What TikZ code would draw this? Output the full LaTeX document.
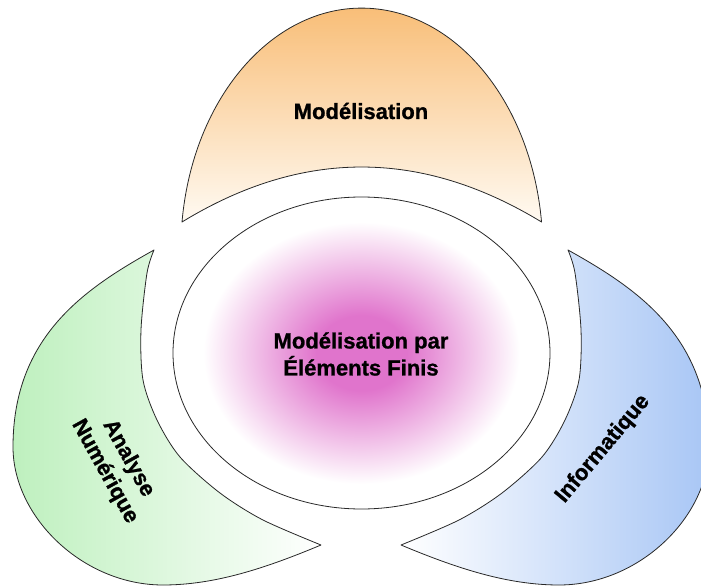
\documentclass[tikz,border=0pt]{standalone}
\usepackage{fontspec}
\setmainfont{Liberation Sans}
\newfontfamily\lblfont{Liberation Sans Bold}[FakeBold=1]
\usetikzlibrary{shapes.geometric}
\definecolor{orangec}{RGB}{248,186,112}
\definecolor{greenc}{RGB}{190,240,190}
\definecolor{bluec}{RGB}{168,198,245}
\definecolor{pinkc}{RGB}{224,116,204}
\definecolor{edgec}{RGB}{40,40,40}
\pgfdeclareradialshading{pinkglow}{\pgfpoint{0bp}{0bp}}{color(0bp)=(pinkc); color(6bp)=(pinkc); color(21bp)=(white); color(50bp)=(white)}
\tikzset{
  petal/.style={draw=edgec, line width=0.8pt, line join=round},
  lbl/.style={font=\lblfont\fontsize{22}{27}\selectfont, align=center, inner sep=0pt, text=black}
}
\begin{document}
\begin{tikzpicture}[x=1pt,y=-1pt]
\useasboundingbox (0,0) rectangle (701,588);
\begin{scope}
\clip (0,0) rectangle (701,588);
% top petal
\path[petal, top color=orangec, bottom color={rgb,255:red,255;green,250;blue,242}]
  (182,222) arc[start angle=186.67, end angle=353.33, x radius=181, y radius=242]
  .. controls (421,148.7) and (302,148.7) .. (182,222) -- cycle;
% left petal
\path[petal, left color=greenc, right color=white]
  (154,250) .. controls (84,289) and (13,337) .. (13,447)
  .. controls (13,517) and (83,585) .. (163,585)
  .. controls (215,585) and (266,568) .. (321,545)
  -- plot[smooth] coordinates {(321,545) (263,520) (220,493) (180,457) (157,420) (143,380) (141,330) (147,273) (154,250)} -- cycle;
% right petal
\path[petal, right color=bluec, left color=white]
  (568,250) .. controls (638,289) and (709,337) .. (709,447)
  .. controls (709,517) and (639,585) .. (559,585)
  .. controls (507,585) and (456,568) .. (401,545)
  -- plot[smooth] coordinates {(401,545) (459,520) (502,493) (542,457) (565,420) (579,380) (581,330) (575,273) (568,250)} -- cycle;
\end{scope}
% centre
\node[ellipse, draw=edgec, line width=0.8pt, shade, shading=pinkglow, minimum width=377pt, minimum height=312pt, inner sep=0pt] (core) at (361.5,353) {};
\node[lbl] (coretext) at (361,354) {Modélisation par\\Éléments Finis};
\node[lbl, anchor=base] (toptext) at (361,119) {Modélisation};
\node[lbl, rotate=-61] (lefttext) at (116.5,465) {Analyse\\Numérique};
\node[lbl, rotate=50] (righttext) at (603,449) {Informatique};
\end{tikzpicture}
\end{document}
